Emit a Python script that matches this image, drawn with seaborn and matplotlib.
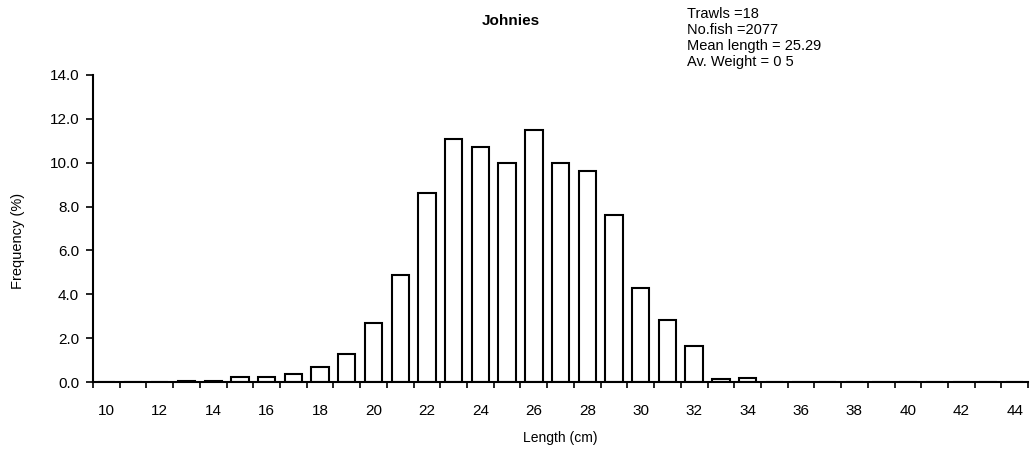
import matplotlib
matplotlib.use("Agg")
import matplotlib.pyplot as plt
from matplotlib.ticker import MultipleLocator, FormatStrFormatter
import seaborn as sns
import pandas as pd

# Length classes (cm) and percentage frequency of fish in each class
lengths = list(range(10, 45))
frequency = [0.0, 0.0, 0.0, 0.05, 0.05, 0.25, 0.25, 0.35, 0.7, 1.3,
             2.7, 4.9, 8.6, 11.1, 10.7, 10.0, 11.5, 10.0, 9.6, 7.6,
             4.3, 2.85, 1.65, 0.15, 0.2, 0.0, 0.0, 0.0, 0.0, 0.0,
             0.0, 0.0, 0.0, 0.0, 0.0]
x_tick_labels = list(range(10, 45, 2))
y_tick_values = [0, 2, 4, 6, 8, 10, 12, 14]

title = "Johnies"
summary = ["Trawls =18", "No.fish =2077", "Mean length = 25.29", "Av. Weight = 0 5"]

df = pd.DataFrame({"length": lengths, "freq": frequency})

sns.set_style("white")
plt.rcParams["font.family"] = ["Liberation Sans", "DejaVu Sans"]
plt.rcParams["text.color"] = "black"
plt.rcParams["axes.labelcolor"] = "black"
plt.rcParams["xtick.color"] = "black"
plt.rcParams["ytick.color"] = "black"

fig = plt.figure(figsize=(10.31, 4.57), dpi=100)
ax = fig.add_axes([0.0902, 0.164, 0.907, 0.672])

sns.barplot(data=df, x="length", y="freq", native_scale=True, width=0.65,
            color="white", edgecolor="black", linewidth=1.5, saturation=1,
            ax=ax)

ax.set_xlim(9.5, 44.5)
ax.set_ylim(0, 14)

ax.set_xticks(x_tick_labels)
ax.set_xticklabels([str(v) for v in x_tick_labels], fontsize=11)
ax.xaxis.set_minor_locator(MultipleLocator(1, offset=0.5))
ax.tick_params(axis="x", which="major", length=0, pad=16)
ax.tick_params(axis="x", which="minor", length=4, width=1.2, direction="out",
               bottom=True, color="black")

ax.set_yticks(y_tick_values)
ax.yaxis.set_major_formatter(FormatStrFormatter("%.1f"))
ax.tick_params(axis="y", which="major", length=5, width=1.2, direction="out",
               left=True, labelsize=11, pad=5, color="black")

for side in ("top", "right"):
    ax.spines[side].set_visible(False)
for side in ("left", "bottom"):
    ax.spines[side].set_color("black")
    ax.spines[side].set_linewidth(1.5)

ax.set_xlabel("Length (cm)", fontsize=10, labelpad=9)
ax.set_ylabel("Frequency (%)", fontsize=10.5)
ax.yaxis.set_label_coords(-0.073, 0.46)

fig.text(0.495, 0.955, title, fontsize=11, fontweight="bold", ha="center",
         va="center")
fig.text(0.666, 0.985, "\n".join(summary), fontsize=10.5, ha="left", va="top",
         linespacing=1.2)

fig.savefig("out.png", dpi=100, facecolor="white")
